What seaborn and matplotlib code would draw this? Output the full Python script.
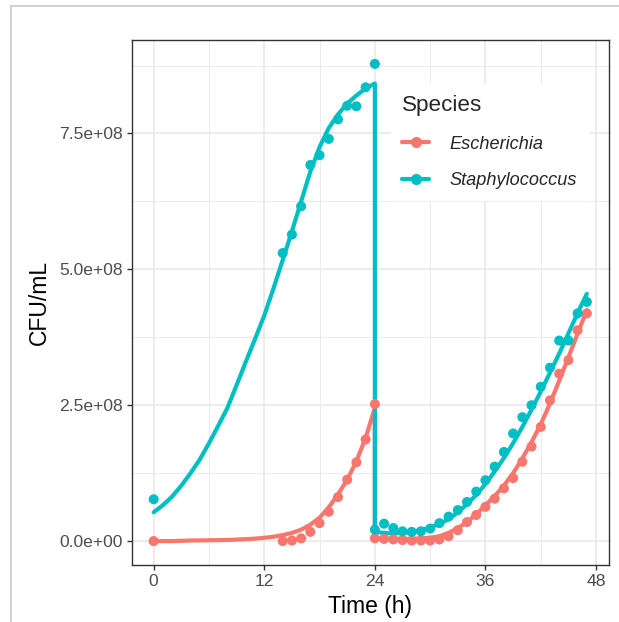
import matplotlib
matplotlib.use("Agg")
import matplotlib.pyplot as plt
from matplotlib.lines import Line2D
from matplotlib.ticker import FuncFormatter, MultipleLocator
import seaborn as sns
import pandas as pd

sns.set_theme(style="white")
plt.rcParams['font.family'] = ['Liberation Sans', 'DejaVu Sans']

species = ["Escherichia", "Staphylococcus"]
colors = ["#F8766D", "#00BFC4"]

# observed points, CFU/mL in units of 1e8
esch_t = [0, 14, 15, 16, 17, 18, 19, 20, 21, 22, 23, 24,
          24, 25, 26, 27, 28, 29, 30, 31, 32, 33, 34, 35, 36, 37, 38, 39, 40,
          41, 42, 43, 44, 45, 46, 47]
esch_y = [0.0, 0.0, 0.01, 0.05, 0.17, 0.33, 0.54, 0.81, 1.13, 1.45, 1.87, 2.52,
          0.05, 0.04, 0.03, 0.02, 0.01, 0.01, 0.01, 0.03, 0.09, 0.20, 0.35, 0.48,
          0.63, 0.78, 0.97, 1.16, 1.46, 1.74, 2.10, 2.59, 3.08, 3.33, 3.88, 4.19]

staph_t = [0, 14, 15, 16, 17, 18, 19, 20, 21, 22, 23, 24,
           24, 25, 26, 27, 28, 29, 30, 31, 32, 33, 34, 35, 36, 37, 38, 39, 40,
           41, 42, 43, 44, 45, 46, 47]
staph_y = [0.77, 5.30, 5.64, 6.16, 6.92, 7.10, 7.40, 7.76, 8.01, 8.00, 8.35, 8.78,
           0.21, 0.32, 0.24, 0.18, 0.17, 0.18, 0.23, 0.33, 0.45, 0.57, 0.72, 0.91,
           1.12, 1.37, 1.64, 1.98, 2.28, 2.50, 2.84, 3.19, 3.69, 3.69, 4.19, 4.40]

# fitted curves
esch_fit_t = [0, 2, 4, 6, 8, 10, 11, 12, 13, 14, 15, 16, 17, 18, 19, 20, 21, 22, 23, 24,
              24, 25, 26, 27, 28, 29, 30, 31, 32, 33, 34, 35, 36, 37, 38, 39, 40,
              41, 42, 43, 44, 45, 46, 47]
esch_fit_y = [0.0, 0.0, 0.01, 0.015, 0.02, 0.035, 0.045, 0.06, 0.08, 0.11, 0.15, 0.21,
              0.30, 0.43, 0.62, 0.86, 1.13, 1.47, 1.90, 2.45,
              0.05, 0.04, 0.04, 0.04, 0.04, 0.05, 0.06, 0.09, 0.15, 0.24, 0.35, 0.49,
              0.66, 0.83, 1.02, 1.25, 1.52, 1.82, 2.15, 2.53, 2.95, 3.38, 3.82, 4.25]

staph_fit_t = [0, 1, 2, 3, 4, 5, 6, 7, 8, 9, 10, 11, 12, 13, 14, 15, 16, 17, 18, 19,
               20, 21, 22, 23, 24,
               24, 25, 26, 27, 28, 29, 30, 31, 32, 33, 34, 35, 36, 37, 38, 39, 40,
               41, 42, 43, 44, 45, 46, 47]
staph_fit_y = [0.53, 0.66, 0.82, 1.02, 1.25, 1.50, 1.80, 2.12, 2.45, 2.87, 3.30, 3.72,
               4.15, 4.65, 5.17, 5.70, 6.25, 6.80, 7.25, 7.60, 7.85, 8.05, 8.20, 8.33, 8.42,
               0.17, 0.15, 0.14, 0.15, 0.17, 0.20, 0.25, 0.32, 0.40, 0.53, 0.68, 0.85,
               1.05, 1.28, 1.53, 1.80, 2.10, 2.42, 2.75, 3.10, 3.45, 3.82, 4.20, 4.55]

pts = pd.concat([
    pd.DataFrame({"Time": esch_t, "CFU": esch_y, "Species": species[0]}),
    pd.DataFrame({"Time": staph_t, "CFU": staph_y, "Species": species[1]}),
], ignore_index=True)
pts["CFU"] = pts["CFU"] * 1e8

fit = pd.concat([
    pd.DataFrame({"Time": esch_fit_t, "CFU": esch_fit_y, "Species": species[0]}),
    pd.DataFrame({"Time": staph_fit_t, "CFU": staph_fit_y, "Species": species[1]}),
], ignore_index=True)
fit["CFU"] = fit["CFU"] * 1e8

pal = dict(zip(species, colors))

fig = plt.figure(figsize=(6.19, 6.22), dpi=100)
ax = fig.add_axes([132 / 619, 1 - 565 / 622, 476.5 / 619, 525 / 622])

sns.lineplot(data=fit, x="Time", y="CFU", hue="Species", palette=pal, estimator=None,
             sort=False, linewidth=3.0, ax=ax, legend=False, zorder=3)
sns.scatterplot(data=pts, x="Time", y="CFU", hue="Species", palette=pal, s=52,
                linewidth=0, ax=ax, legend=False, zorder=4)

ax.set_xlim(-2.35, 49.35)
ax.set_ylim(-0.44e8, 9.22e8)
ax.xaxis.set_major_locator(MultipleLocator(12))
ax.xaxis.set_minor_locator(MultipleLocator(6))
ax.yaxis.set_major_locator(MultipleLocator(2.5e8))
ax.yaxis.set_minor_locator(MultipleLocator(1.25e8))
ax.yaxis.set_major_formatter(FuncFormatter(lambda v, p: f"{v:.1e}"))

ax.grid(which="major", color="#EBEBEB", linewidth=1.3, zorder=0)
ax.grid(which="minor", color="#EBEBEB", linewidth=0.7, zorder=0)
ax.set_axisbelow(True)
for s in ax.spines.values():
    s.set_color("#333333")
    s.set_linewidth(1.0)

ax.tick_params(which="major", length=3.5, width=1.0, color="#333333", labelsize=12.6,
               labelcolor="#4D4D4D", pad=3, left=True, bottom=True)
ax.tick_params(which="minor", length=0)
ax.set_xlabel("Time (h)", fontsize=16.5, color="black", labelpad=4)
ax.set_ylabel("CFU/mL", fontsize=16.5, color="black", labelpad=6)

handles = [Line2D([], [], color=c, linewidth=3.0, marker="o", markersize=7) for c in colors]
leg = ax.legend(handles, species, title="Species", loc="upper left",
                bbox_to_anchor=(0.525, 0.933), frameon=True, fancybox=False,
                facecolor="white", edgecolor="white", framealpha=1,
                prop={"style": "italic", "size": 13.1}, title_fontsize=16.2,
                handlelength=1.5, handletextpad=1.1, labelspacing=1.07,
                borderpad=0.6, alignment="left")
leg.set_zorder(5)

# light frame of the original screenshot
fig.add_artist(Line2D([10.5 / 619, 1], [1 - 5.5 / 622] * 2, color="#C8C8C8", lw=1.2))
fig.add_artist(Line2D([10.5 / 619] * 2, [0, 1 - 5.5 / 622], color="#C8C8C8", lw=1.2))

fig.savefig("out.png", dpi=100)
